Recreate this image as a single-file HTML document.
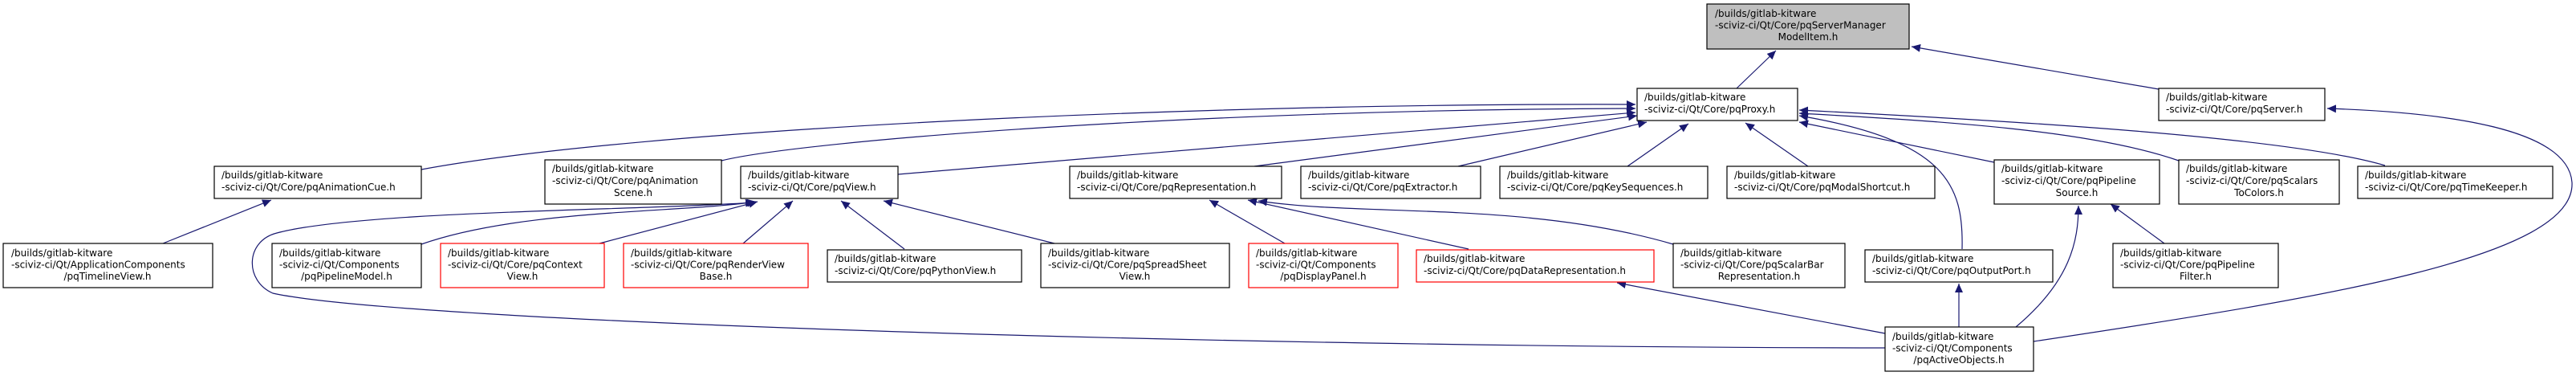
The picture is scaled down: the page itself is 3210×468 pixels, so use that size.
<!DOCTYPE html>
<html><head><meta charset="utf-8"><style>
html,body{margin:0;padding:0;background:#fff;width:3210px;height:468px;overflow:hidden}
text{font-family:"DejaVu Sans","Liberation Sans",sans-serif;font-size:12px;fill:#000}
.b{fill:#fff;stroke:#000;stroke-width:1.2}
.r{fill:#fff;stroke:#ff0000;stroke-width:1.2}
.g{fill:#bfbfbf;stroke:#000;stroke-width:1.2}
.e{fill:none;stroke:#191970;stroke-width:1.2}
</style></head><body>
<svg width="3210" height="468" viewBox="0 0 3210 468" xmlns="http://www.w3.org/2000/svg">
<defs><marker id="a" markerUnits="userSpaceOnUse" markerWidth="12" markerHeight="10" refX="11" refY="5" orient="auto"><path d="M0,0 L11,5 L0,10 z" fill="#191970"/></marker></defs>
<g class="e" marker-end="url(#a)">
<path d="M2164,110 L2213,63"/>
<path d="M2690,111 L2382,58"/>
<path d="M525,211 C 800,160 1500,128 2038,130"/>
<path d="M899,200 C 1000,175 1500,136 2038,135"/>
<path d="M1119,217 L2038,140"/>
<path d="M1563,207 L2040,144"/>
<path d="M1817,207 L2052,152"/>
<path d="M2028,207 L2104,154"/>
<path d="M2253,207 L2175,153"/>
<path d="M2445,310 C 2447,230 2425,175 2242,144"/>
<path d="M2485,202 L2242,152"/>
<path d="M2715,200 C 2600,160 2400,150 2242,141"/>
<path d="M2972,206 C 2850,170 2500,150 2242,137"/>
<path d="M2534,425 C 2900,370 3210,320 3205,227 C 3200,160 3050,140 2900,135"/>
<path d="M203,303 L338,249"/>
<path d="M525,304 C 650,260 850,265 942,251"/>
<path d="M747,303 L944,251"/>
<path d="M926,303 L988,250"/>
<path d="M1127,310 L1048,250"/>
<path d="M1314,303 L1101,250"/>
<path d="M2349,433 C 1500,432 500,400 340,365 C 305,350 305,300 345,290 C 450,262 800,262 940,252"/>
<path d="M1601,303 L1507,249"/>
<path d="M1830,310 L1555,249"/>
<path d="M2085,304 C 1900,250 1700,270 1568,250"/>
<path d="M2349,415 L2015,352"/>
<path d="M2441,407 L2441,353"/>
<path d="M2512,407 C 2580,350 2590,300 2590,256"/>
<path d="M2697,303 L2630,254"/>
</g>
<rect class="g" x="2127" y="5" width="252" height="56"/>
<text x="2137" y="21">/builds/gitlab-kitware</text><text x="2137" y="35.5">-sciviz-ci/Qt/Core/pqServerManager</text><text x="2253" y="50" text-anchor="middle">ModelItem.h</text>

<rect class="b" x="2040" y="110" width="200" height="40"/>
<text x="2049" y="125">/builds/gitlab-kitware</text><text x="2049" y="140">-sciviz-ci/Qt/Core/pqProxy.h</text>

<rect class="b" x="2690" y="110" width="207" height="40"/>
<text x="2699" y="125">/builds/gitlab-kitware</text><text x="2699" y="140">-sciviz-ci/Qt/Core/pqServer.h</text>

<rect class="b" x="267" y="207" width="258" height="40"/>
<text x="276" y="222">/builds/gitlab-kitware</text><text x="276" y="237">-sciviz-ci/Qt/Core/pqAnimationCue.h</text>

<rect class="b" x="679" y="199" width="220" height="55"/>
<text x="688" y="214">/builds/gitlab-kitware</text><text x="688" y="229">-sciviz-ci/Qt/Core/pqAnimation</text><text x="789" y="244" text-anchor="middle">Scene.h</text>

<rect class="b" x="923" y="207" width="196" height="40"/>
<text x="932" y="222">/builds/gitlab-kitware</text><text x="932" y="237">-sciviz-ci/Qt/Core/pqView.h</text>

<rect class="b" x="1333" y="207" width="264" height="40"/>
<text x="1342" y="222">/builds/gitlab-kitware</text><text x="1342" y="237">-sciviz-ci/Qt/Core/pqRepresentation.h</text>

<rect class="b" x="1621" y="207" width="224" height="40"/>
<text x="1630" y="222">/builds/gitlab-kitware</text><text x="1630" y="237">-sciviz-ci/Qt/Core/pqExtractor.h</text>

<rect class="b" x="1869" y="207" width="259" height="40"/>
<text x="1878" y="222">/builds/gitlab-kitware</text><text x="1878" y="237">-sciviz-ci/Qt/Core/pqKeySequences.h</text>

<rect class="b" x="2152" y="207" width="259" height="40"/>
<text x="2161" y="222">/builds/gitlab-kitware</text><text x="2161" y="237">-sciviz-ci/Qt/Core/pqModalShortcut.h</text>

<rect class="b" x="2485" y="199" width="206" height="55"/>
<text x="2494" y="214">/builds/gitlab-kitware</text><text x="2494" y="229">-sciviz-ci/Qt/Core/pqPipeline</text><text x="2588" y="244" text-anchor="middle">Source.h</text>

<rect class="b" x="2715" y="199" width="200" height="55"/>
<text x="2724" y="214">/builds/gitlab-kitware</text><text x="2724" y="229">-sciviz-ci/Qt/Core/pqScalars</text><text x="2815" y="244" text-anchor="middle">ToColors.h</text>

<rect class="b" x="2938" y="207" width="243" height="40"/>
<text x="2947" y="222">/builds/gitlab-kitware</text><text x="2947" y="237">-sciviz-ci/Qt/Core/pqTimeKeeper.h</text>

<rect class="b" x="4" y="303" width="261" height="55"/>
<text x="14" y="319">/builds/gitlab-kitware</text><text x="14" y="333.5">-sciviz-ci/Qt/ApplicationComponents</text><text x="134" y="348" text-anchor="middle">/pqTimelineView.h</text>

<rect class="b" x="339" y="303" width="186" height="55"/>
<text x="348" y="319">/builds/gitlab-kitware</text><text x="348" y="333.5">-sciviz-ci/Qt/Components</text><text x="432" y="348" text-anchor="middle">/pqPipelineModel.h</text>

<rect class="r" x="549" y="303" width="204" height="55"/>
<text x="558" y="319">/builds/gitlab-kitware</text><text x="558" y="333.5">-sciviz-ci/Qt/Core/pqContext</text><text x="651" y="348" text-anchor="middle">View.h</text>

<rect class="r" x="777" y="303" width="230" height="55"/>
<text x="786" y="319">/builds/gitlab-kitware</text><text x="786" y="333.5">-sciviz-ci/Qt/Core/pqRenderView</text><text x="892" y="348" text-anchor="middle">Base.h</text>

<rect class="b" x="1031" y="311" width="242" height="40"/>
<text x="1040" y="326">/builds/gitlab-kitware</text><text x="1040" y="341">-sciviz-ci/Qt/Core/pqPythonView.h</text>

<rect class="b" x="1297" y="303" width="235" height="55"/>
<text x="1306" y="319">/builds/gitlab-kitware</text><text x="1306" y="333.5">-sciviz-ci/Qt/Core/pqSpreadSheet</text><text x="1414" y="348" text-anchor="middle">View.h</text>

<rect class="r" x="1556" y="303" width="186" height="55"/>
<text x="1565" y="319">/builds/gitlab-kitware</text><text x="1565" y="333.5">-sciviz-ci/Qt/Components</text><text x="1649" y="348" text-anchor="middle">/pqDisplayPanel.h</text>

<rect class="r" x="1765" y="311" width="296" height="40"/>
<text x="1774" y="326">/builds/gitlab-kitware</text><text x="1774" y="341">-sciviz-ci/Qt/Core/pqDataRepresentation.h</text>

<rect class="b" x="2085" y="303" width="214" height="55"/>
<text x="2094" y="319">/builds/gitlab-kitware</text><text x="2094" y="333.5">-sciviz-ci/Qt/Core/pqScalarBar</text><text x="2192" y="348" text-anchor="middle">Representation.h</text>

<rect class="b" x="2324" y="311" width="234" height="40"/>
<text x="2333" y="326">/builds/gitlab-kitware</text><text x="2333" y="341">-sciviz-ci/Qt/Core/pqOutputPort.h</text>

<rect class="b" x="2633" y="303" width="206" height="55"/>
<text x="2642" y="319">/builds/gitlab-kitware</text><text x="2642" y="333.5">-sciviz-ci/Qt/Core/pqPipeline</text><text x="2736" y="348" text-anchor="middle">Filter.h</text>

<rect class="b" x="2349" y="407" width="185" height="55"/>
<text x="2358" y="423">/builds/gitlab-kitware</text><text x="2358" y="437.5">-sciviz-ci/Qt/Components</text><text x="2441" y="452" text-anchor="middle">/pqActiveObjects.h</text>
</svg>
</body></html>
